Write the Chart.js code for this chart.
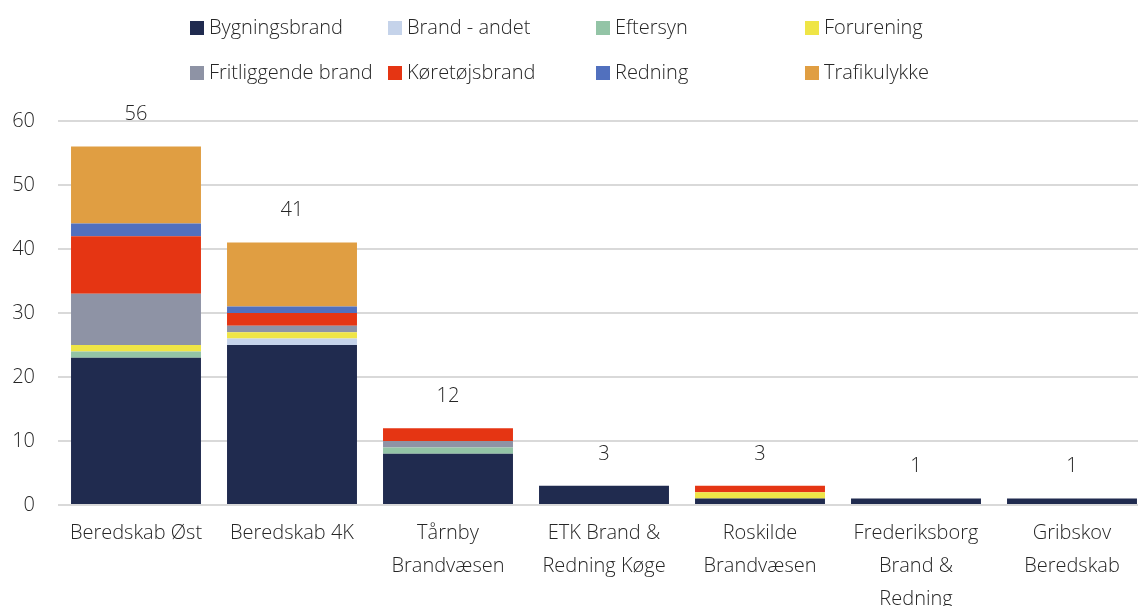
<!DOCTYPE html>
<html>
<head>
<meta charset="utf-8">
<script src="https://cdn.jsdelivr.net/npm/chart.js@4"></script>
<style>
  html, body { margin: 0; padding: 0; background: #fff; overflow: hidden; }
  #wrap { position: relative; width: 1138px; height: 606px; overflow: hidden; }
  canvas { position: absolute; left: 0; top: 0; }
  .lg { position: absolute; font-family: "Open Sans", sans-serif; font-weight: 300; font-size: 20px; color: #262626; white-space: nowrap; line-height: 24px; }
  .lg span.sw { display: inline-block; width: 14px; height: 14px; margin-right: 5px; vertical-align: -1px; }
</style>
</head>
<body>
<div id="wrap">
  <canvas id="c" width="1150" height="606"></canvas>
  <div id="legend"></div>
</div>
<script>
const categories = [
  ["Beredskab Øst"],
  ["Beredskab 4K"],
  ["Tårnby", "Brandvæsen"],
  ["ETK Brand &", "Redning Køge"],
  ["Roskilde", "Brandvæsen"],
  ["Frederiksborg", "Brand &", "Redning"],
  ["Gribskov", "Beredskab"]
];
const seriesNames = ["Bygningsbrand", "Brand - andet", "Eftersyn", "Forurening",
                     "Fritliggende brand", "Køretøjsbrand", "Redning", "Trafikulykke"];
const bygningsbrand   = [23, 25, 8, 3, 1, 1, 1];
const brandAndet      = [0, 1, 0, 0, 0, 0, 0];
const eftersyn        = [1, 0, 1, 0, 0, 0, 0];
const forurening      = [1, 1, 0, 0, 1, 0, 0];
const fritliggende    = [8, 1, 1, 0, 0, 0, 0];
const koeretoejsbrand = [9, 2, 2, 0, 1, 0, 0];
const redning         = [2, 1, 0, 0, 0, 0, 0];
const trafikulykke    = [12, 10, 0, 0, 0, 0, 0];
const yTicks = [0, 10, 20, 30, 40, 50, 60];

const seriesValues = [bygningsbrand, brandAndet, eftersyn, forurening,
                      fritliggende, koeretoejsbrand, redning, trafikulykke];
const colors = ["#202b4f", "#c5d3ea", "#93c4a6", "#efe546",
                "#8e93a5", "#e53513", "#5170be", "#e09e42"];

const FONT = '"Open Sans", sans-serif';
const TEXT = '#262626';

// HTML legend in 4 aligned columns
const legendPos = [[190, 15], [388, 15], [596, 15], [805, 15],
                   [190, 60], [388, 60], [596, 60], [805, 60]];
const lg = document.getElementById('legend');
seriesNames.forEach((n, i) => {
  const d = document.createElement('div');
  d.className = 'lg';
  d.style.left = legendPos[i][0] + 'px';
  d.style.top = legendPos[i][1] + 'px';
  d.innerHTML = '<span class="sw" style="background:' + colors[i] + '"></span>' + n;
  lg.appendChild(d);
});

const totalsPlugin = {
  id: 'totals',
  afterDatasetsDraw(chart) {
    const ctx = chart.ctx;
    const y = chart.scales.y, x = chart.scales.x;
    ctx.save();
    ctx.font = '300 20px ' + FONT;
    ctx.fillStyle = TEXT;
    ctx.textAlign = 'center';
    ctx.textBaseline = 'middle';
    categories.forEach((c, i) => {
      const total = seriesValues.reduce((s, arr) => s + arr[i], 0);
      ctx.fillText(String(total), x.getPixelForValue(i), y.getPixelForValue(total) - 32);
    });
    ctx.restore();
  }
};

new Chart(document.getElementById('c'), {
  type: 'bar',
  data: {
    labels: categories,
    datasets: seriesNames.map((n, i) => ({
      label: n,
      data: seriesValues[i],
      backgroundColor: colors[i],
      borderWidth: 0,
      barPercentage: 0.833,
      categoryPercentage: 1.0
    }))
  },
  options: {
    responsive: false,
    animation: false,
    layout: { padding: { top: 121, right: 0, left: 0, bottom: 0 } },
    plugins: { legend: { display: false }, tooltip: { enabled: false } },
    scales: {
      x: {
        stacked: true,
        grid: { display: false, drawTicks: false },
        border: { display: false },
        ticks: {
          color: TEXT,
          padding: 12,
          maxRotation: 0,
          autoSkip: false,
          font: { family: FONT, weight: '300', size: 20, lineHeight: 1.65 }
        },
        afterFit(s) { s.height = 101; }
      },
      y: {
        stacked: true,
        min: 0, max: 60,
        afterBuildTicks(s) { s.ticks = yTicks.map(v => ({ value: v })); },
        grid: { color: '#d9d9d9', lineWidth: 2, drawTicks: false },
        border: { display: false },
        ticks: {
          color: TEXT,
          padding: 23,
          font: { family: FONT, weight: '300', size: 20 }
        },
        afterFit(s) { s.width = 58; }
      }
    }
  },
  plugins: [totalsPlugin]
});
</script>
</body>
</html>
